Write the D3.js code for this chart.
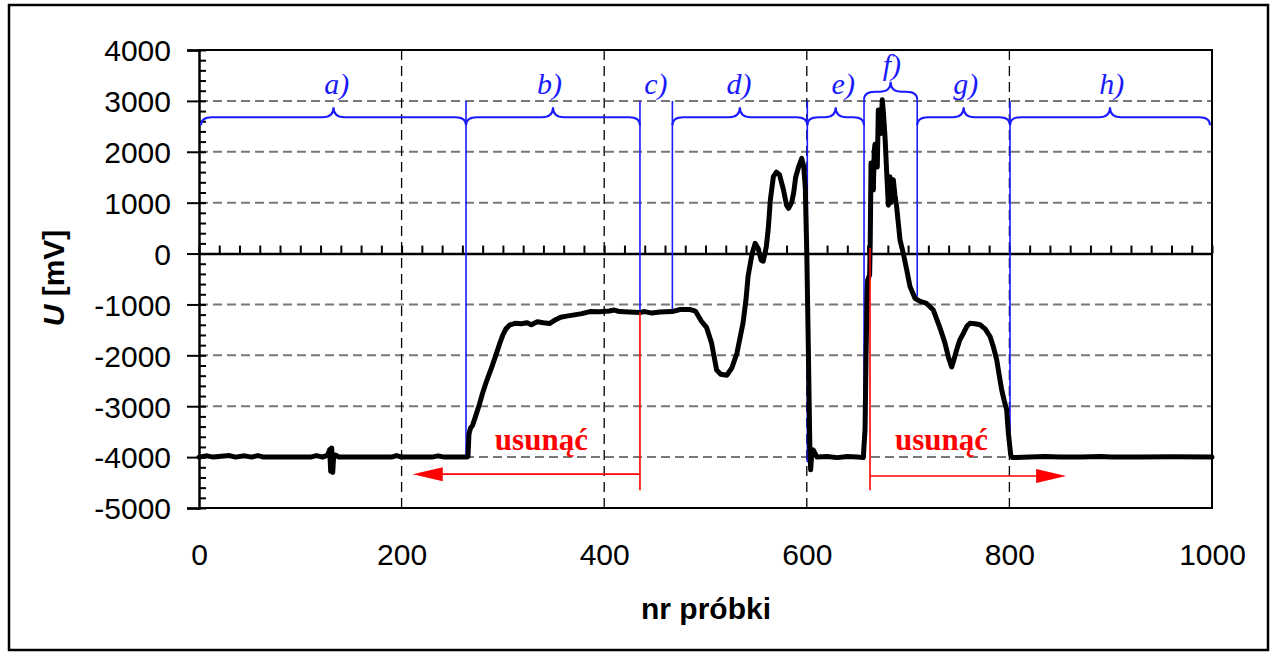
<!DOCTYPE html>
<html>
<head>
<meta charset="utf-8">
<script src="https://cdn.jsdelivr.net/npm/d3@7"></script>
<style>
  body { margin: 0; background: #fff; }
  svg { display: block; }
  .tick text { font-family: "Liberation Sans", Arial, sans-serif; font-size: 30px; fill: #000; }
  .axislabel { font-family: "Liberation Sans", Arial, sans-serif; font-size: 30px; font-weight: bold; }
  .seglabel { font-family: "Liberation Serif", "Times New Roman", serif; font-size: 30px; font-style: italic; fill: #1a1aff; }
  .remove { font-family: "Liberation Serif", "Times New Roman", serif; font-size: 31px; font-weight: bold; fill: #ff0000; }
</style>
</head>
<body>
<div id="chart"></div>
<script>
// sample numbers (nr próbki) and voltage in mV
var sampleX = [0, 8, 14, 30, 36, 45, 52, 58, 64, 110, 116, 122, 127, 129, 130, 131, 132, 133, 135, 138,
  190, 195, 200, 230, 236, 242, 258, 264, 265.5, 266.5, 268, 270, 273, 277, 280, 284, 289, 293, 297, 300,
  303, 307, 312, 318, 324, 328, 334, 340, 346, 352, 357, 363, 369, 378, 386, 395, 405, 410, 415, 425,
  435, 440, 447, 455, 467, 475, 485, 490, 496, 501, 506, 511, 515, 521, 526, 531, 537, 540, 542, 546,
  549, 552, 555, 557, 560, 562, 564, 567, 570, 573, 577, 580, 582, 585, 587, 589, 592, 595, 597, 598.5,
  600, 601.5, 603, 603.8, 605, 606.4, 610, 620, 630, 640, 650, 655.8, 657.5, 658.5, 659.5, 660.1, 662, 662.6, 663.4, 664.5,
  665.7, 666.5, 667.3, 668.5, 669.6, 670.6, 671.5, 673, 674.5, 675.5, 677.2, 678.9, 680.5, 682.1, 683, 683.8, 685.4, 687, 688.7, 692,
  695.3, 698.6, 701.9, 706.8, 712, 718.3, 724.9, 729.8, 733, 736.4, 740, 743, 745, 748, 751, 754.5, 758, 761.1, 766, 771,
  776, 780.9, 784, 787.5, 790, 792.4, 795, 797.3, 799, 801.3, 803, 820, 835, 850, 870, 890, 900, 930, 960, 1000];
var sampleU = [-4000, -3975, -4000, -3970, -4000, -3975, -4000, -3970, -4000, -4000, -3970, -4000, -3960, -3850, -4280, -3820, -4300, -3950, -3960, -4000,
  -4000, -3970, -4000, -4000, -3975, -4000, -4000, -4000, -3990, -3550, -3430, -3380, -3200, -2950, -2740, -2500, -2230, -2000, -1760, -1600,
  -1480, -1400, -1370, -1380, -1360, -1400, -1340, -1360, -1375, -1300, -1250, -1230, -1210, -1180, -1140, -1145, -1130, -1110, -1140, -1150,
  -1160, -1140, -1170, -1150, -1140, -1100, -1100, -1130, -1330, -1450, -1760, -2290, -2370, -2390, -2250, -1960, -1370, -900, -450, 0,
  200, 100, -130, -150, 130, 500, 1050, 1510, 1600, 1550, 1250, 950, 890, 1000, 1190, 1500, 1710, 1870, 1700, 1300,
  0, -1830, -3800, -4250, -3900, -3860, -4000, -3990, -4010, -3990, -4000, -4010, -3450, -2000, -800, -520, -420, 200, 1780, 1500,
  1250, 2000, 2150, 1900, 1700, 2820, 2500, 2360, 3020, 2800, 2300, 1580, 950, 1510, 1000, 1250, 1450, 1150, 920, 270,
  0, -320, -650, -880, -940, -980, -1110, -1370, -1550, -1760, -2050, -2230, -2100, -1890, -1700, -1570, -1430, -1370, -1380, -1400,
  -1480, -1630, -1820, -2090, -2400, -2680, -2900, -3070, -3530, -3960, -4010, -4000, -3990, -4000, -4000, -3990, -4000, -4000, -3995, -4000];

var xTicks = [0, 200, 400, 600, 800, 1000];
var yTicks = [-5000, -4000, -3000, -2000, -1000, 0, 1000, 2000, 3000, 4000];

// segment boundaries (blue lines): sample, top and bottom in mV
var cutX = [263.6, 435.3, 467.3, 600.5, 656.5, 709, 800.6];
var cutTop = [3000, 3000, 3000, 3000, 3020, 3020, 3000];
var cutBottom = [-4000, -1160, -1140, -4100, -4050, -850, -4000];

// braces
var braceName = ["a)", "b)", "d)", "e)", "f)", "g)", "h)"];
var braceFrom = [2, 263.6, 467.3, 600.5, 656.5, 709, 800.6];
var braceTo = [263.6, 435.3, 600.5, 656.5, 709, 800.6, 998];
var braceLevel = [2680, 2680, 2680, 2680, 3180, 2680, 2680];
var labelName = ["a)", "b)", "c)", "d)", "e)", "f)", "g)", "h)"];
var labelX = [136, 346, 451, 533, 636, 684, 757, 901];
var labelU = [3130, 3130, 3130, 3130, 3130, 3500, 3130, 3130];

// red "usunąć" arrows
var cutRed = [435.3, 662.4];
var cutRedTop = [-1160, 110];
var arrowTo = [211, 856];
var arrowU = [-4335, -4370];
var removeX = [338, 733];
var removeU = [-3870, -3870];

var W = 1274, H = 656;
var margin = { left: 199, right: 62, top: 50, bottom: 148 };

var svg = d3.select("#chart").append("svg").attr("width", W).attr("height", H);

var x = d3.scaleLinear().domain([0, 1000]).range([margin.left, W - margin.right]);
var y = d3.scaleLinear().domain([-5000, 4000]).range([H - margin.bottom, margin.top]);

// outer frame
svg.append("rect").attr("x", 9).attr("y", 5).attr("width", 1259).attr("height", 645)
  .attr("fill", "none").attr("stroke", "#000").attr("stroke-width", 2.5);

// gridlines
svg.append("g").selectAll("line").data(yTicks.filter(function (d) { return d > -5000 && d < 4000 && d != 0; }))
  .enter().append("line")
  .attr("x1", x(0)).attr("x2", x(1000))
  .attr("y1", function (d) { return y(d); }).attr("y2", function (d) { return y(d); })
  .attr("stroke", "#777").attr("stroke-width", 2).attr("stroke-dasharray", "9,5");

svg.append("g").selectAll("line").data([200, 400, 600, 800])
  .enter().append("line")
  .attr("x1", function (d) { return x(d); }).attr("x2", function (d) { return x(d); })
  .attr("y1", y(4000)).attr("y2", y(-5000))
  .attr("stroke", "#000").attr("stroke-width", 1.3).attr("stroke-dasharray", "10,6");

// plot frame: top, right, bottom
svg.append("path")
  .attr("d", "M" + x(0) + "," + y(4000) + "H" + x(1000) + "V" + y(-5000) + "H" + x(0))
  .attr("fill", "none").attr("stroke", "#000").attr("stroke-width", 2);

// y axis
var yAxis = svg.append("g").attr("transform", "translate(" + x(0) + ",0)")
  .call(d3.axisLeft(y).tickValues(yTicks).tickSize(12).tickPadding(16)
    .tickFormat(function (d) { return String(d); }));
yAxis.select(".domain").attr("stroke-width", 2.5);
yAxis.selectAll(".tick line").attr("stroke-width", 2);
yAxis.selectAll(".tick text").attr("dy", "0.36em");

var yMinor = d3.range(-5000, 4001, 200);
var yAxisMinor = svg.append("g").attr("transform", "translate(" + x(0) + ",0)")
  .call(d3.axisRight(y).tickValues(yMinor).tickSize(7).tickFormat(""));
yAxisMinor.select(".domain").remove();
yAxisMinor.selectAll(".tick line").attr("stroke-width", 2);

// x axis: line at 0 with minor ticks, labels under the plot
var xZero = svg.append("g").attr("transform", "translate(0," + y(0) + ")")
  .call(d3.axisTop(x).tickValues(d3.range(0, 1001, 20)).tickSize(8).tickSizeOuter(0).tickFormat(""));
xZero.select(".domain").attr("stroke-width", 2.5);
xZero.selectAll(".tick line").attr("stroke-width", 2);

var xAxis = svg.append("g").attr("transform", "translate(0," + y(-5000) + ")")
  .call(d3.axisBottom(x).tickValues(xTicks).tickSize(0).tickPadding(36)
    .tickFormat(function (d) { return String(d); }));
xAxis.select(".domain").remove();

// axis titles
svg.append("text").attr("class", "axislabel").attr("x", 706).attr("y", 619)
  .attr("text-anchor", "middle").text("nr próbki");
var yl = svg.append("text").attr("class", "axislabel")
  .attr("transform", "translate(64,278) rotate(-90)").attr("text-anchor", "middle");
yl.append("tspan").style("font-style", "italic").text("U");
yl.append("tspan").text(" [mV]");

// blue segment lines
svg.append("g").selectAll("line").data(cutX).enter().append("line")
  .attr("x1", function (d) { return x(d); }).attr("x2", function (d) { return x(d); })
  .attr("y1", function (d, i) { return y(cutTop[i]); })
  .attr("y2", function (d, i) { return y(cutBottom[i]); })
  .attr("stroke", "#1a1aff").attr("stroke-width", 1.6);

// braces
function bracePath(x0, x1, lv) {
  var r = 11;
  var yl = y(lv), tip = yl - 10, end = yl + 8;
  var xm = (x0 + x1) / 2;
  return "M" + x0 + "," + end +
    "Q" + x0 + "," + yl + " " + (x0 + r) + "," + yl +
    "L" + (xm - r) + "," + yl +
    "Q" + xm + "," + yl + " " + xm + "," + tip +
    "Q" + xm + "," + yl + " " + (xm + r) + "," + yl +
    "L" + (x1 - r) + "," + yl +
    "Q" + x1 + "," + yl + " " + x1 + "," + end;
}
svg.append("g").selectAll("path").data(braceName).enter().append("path")
  .attr("d", function (d, i) { return bracePath(x(braceFrom[i]), x(braceTo[i]), braceLevel[i]); })
  .attr("fill", "none").attr("stroke", "#1a1aff").attr("stroke-width", 2);

svg.append("g").selectAll("text").data(labelName).enter().append("text")
  .attr("class", "seglabel")
  .attr("x", function (d, i) { return x(labelX[i]); })
  .attr("y", function (d, i) { return y(labelU[i]); })
  .attr("text-anchor", "middle").text(function (d) { return d; });

// the signal
var line = d3.line().x(function (d, i) { return x(sampleX[i]); }).y(function (d) { return y(d); });
svg.append("path").datum(sampleU).attr("d", line)
  .attr("fill", "none").attr("stroke", "#000").attr("stroke-width", 5)
  .attr("stroke-linejoin", "round").attr("stroke-linecap", "round");

// red "usunąć" markers
var red = svg.append("g");
red.selectAll("line.v").data(cutRed).enter().append("line")
  .attr("x1", function (d) { return x(d); }).attr("x2", function (d) { return x(d); })
  .attr("y1", function (d, i) { return y(cutRedTop[i]); }).attr("y2", y(-4650))
  .attr("stroke", "#ff0000").attr("stroke-width", 1.6);
red.selectAll("line.h").data(cutRed).enter().append("line")
  .attr("x1", function (d) { return x(d); })
  .attr("x2", function (d, i) { return x(arrowTo[i]) + (arrowTo[i] < d ? 28 : -28); })
  .attr("y1", function (d, i) { return y(arrowU[i]); }).attr("y2", function (d, i) { return y(arrowU[i]); })
  .attr("stroke", "#ff0000").attr("stroke-width", 1.6);
red.selectAll("path").data(arrowTo).enter().append("path")
  .attr("d", function (d, i) {
    var tx = x(d), ty = y(arrowU[i]), s = d < cutRed[i] ? 1 : -1;
    return "M" + tx + "," + ty + "L" + (tx + s * 30) + "," + (ty - 7) + "L" + (tx + s * 30) + "," + (ty + 7) + "Z";
  })
  .attr("fill", "#ff0000");
red.selectAll("text").data(removeX).enter().append("text")
  .attr("class", "remove")
  .attr("x", function (d) { return x(d); })
  .attr("y", function (d, i) { return y(removeU[i]); })
  .attr("text-anchor", "middle").text("usunąć");
</script>
</body>
</html>
